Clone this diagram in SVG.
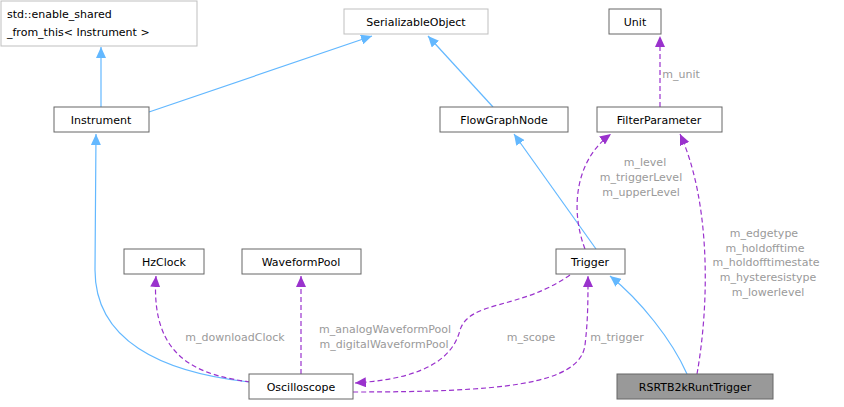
<svg xmlns="http://www.w3.org/2000/svg" width="844" height="407" viewBox="0 0 844 407">
<defs>
<style>
.n rect{fill:#fff;stroke:#666;stroke-width:1}
.g rect{stroke:#bfbfbf}
text{font-family:"DejaVu Sans",sans-serif;font-size:11px;fill:#000}
.c text{fill:#9a9a9a;text-anchor:middle}
.b{fill:none;stroke:#63b8ff;stroke-width:1.2}
.p{fill:none;stroke:#9a32cd;stroke-width:1.2;stroke-dasharray:5,3}
</style>
<marker id="ab" markerWidth="12" markerHeight="10" refX="11" refY="5" orient="auto" markerUnits="userSpaceOnUse"><path d="M0,0 L11,5 L0,10 z" fill="#63b8ff"/></marker>
<marker id="ap" markerWidth="12" markerHeight="10" refX="11" refY="5" orient="auto" markerUnits="userSpaceOnUse"><path d="M0,0 L11,5 L0,10 z" fill="#9a32cd"/></marker>
</defs>
<rect width="844" height="407" fill="#fff"/>
<g id="connectors" class="c">
<path class="b" d="M101,107 L101,47" marker-end="url(#ab)"/>
<path class="b" d="M149,112 L372,36" marker-end="url(#ab)"/>
<path class="b" d="M493,107 L428,36" marker-end="url(#ab)"/>
<path class="b" d="M596,249 L514,134" marker-end="url(#ab)"/>
<path class="b" d="M687,374 C672,340 640,300 610,276" marker-end="url(#ab)"/>
<path class="b" d="M249,382 C160,372 95,340 95,270 L96,134" marker-end="url(#ab)"/>
<path class="p" d="M660,107 L660,36" marker-end="url(#ap)"/>
<text x="681" y="78">m_unit</text>
<path class="p" d="M585,249 C570,210 575,160 611,134" marker-end="url(#ap)"/>
<text x="645" y="166">m_level</text><text x="641" y="181">m_triggerLevel</text><text x="641" y="196">m_upperLevel</text>
<path class="p" d="M697,374 C710,300 710,200 680,134" marker-end="url(#ap)"/>
<text x="764" y="237">m_edgetype</text><text x="765" y="252">m_holdofftime</text><text x="766" y="266">m_holdofftimestate</text><text x="768" y="281">m_hysteresistype</text><text x="768" y="296">m_lowerlevel</text>
<path class="p" d="M250,382 C200,375 150,360 156,276" marker-end="url(#ap)"/>
<text x="235" y="341">m_downloadClock</text>
<path class="p" d="M301,374 L301,276" marker-end="url(#ap)"/>
<text x="385" y="333">m_analogWaveformPool</text><text x="384" y="348">m_digitalWaveformPool</text>
<path class="p" d="M570,275 C520,310 470,300 460,330 C450,370 400,380 355,383" marker-end="url(#ap)"/>
<text x="531" y="341">m_scope</text>
<path class="p" d="M353,392 C500,392 580,385 585,345 C588,320 588,300 588,276" marker-end="url(#ap)"/>
<text x="617" y="341">m_trigger</text>
</g>
<g id="enable_shared" class="n g"><rect x="1" y="1" width="196" height="45"/><text x="7" y="18">std::enable_shared</text><text x="7" y="36">_from_this&lt; Instrument &gt;</text></g>
<g id="SerializableObject" class="n g"><rect x="344" y="9" width="144" height="25"/><text x="416" y="26" text-anchor="middle">SerializableObject</text></g>
<g id="Unit" class="n"><rect x="609" y="9" width="52" height="25"/><text x="635" y="26" text-anchor="middle">Unit</text></g>
<g id="Instrument" class="n"><rect x="54" y="107" width="95" height="25"/><text x="101" y="124" text-anchor="middle">Instrument</text></g>
<g id="FlowGraphNode" class="n"><rect x="440" y="107" width="128" height="25"/><text x="504" y="124" text-anchor="middle">FlowGraphNode</text></g>
<g id="FilterParameter" class="n"><rect x="597" y="107" width="125" height="25"/><text x="659" y="124" text-anchor="middle">FilterParameter</text></g>
<g id="HzClock" class="n"><rect x="124" y="249" width="80" height="25"/><text x="164" y="266" text-anchor="middle">HzClock</text></g>
<g id="WaveformPool" class="n"><rect x="242" y="249" width="119" height="25"/><text x="301" y="266" text-anchor="middle">WaveformPool</text></g>
<g id="Trigger" class="n"><rect x="556" y="249" width="69" height="25"/><text x="590" y="266" text-anchor="middle">Trigger</text></g>
<g id="Oscilloscope" class="n"><rect x="249" y="374" width="104" height="25"/><text x="301" y="391" text-anchor="middle">Oscilloscope</text></g>
<g id="RSRTB2kRuntTrigger" class="n"><rect x="617" y="374" width="156" height="25" style="fill:#999"/><text x="695" y="391" text-anchor="middle">RSRTB2kRuntTrigger</text></g>
</svg>
